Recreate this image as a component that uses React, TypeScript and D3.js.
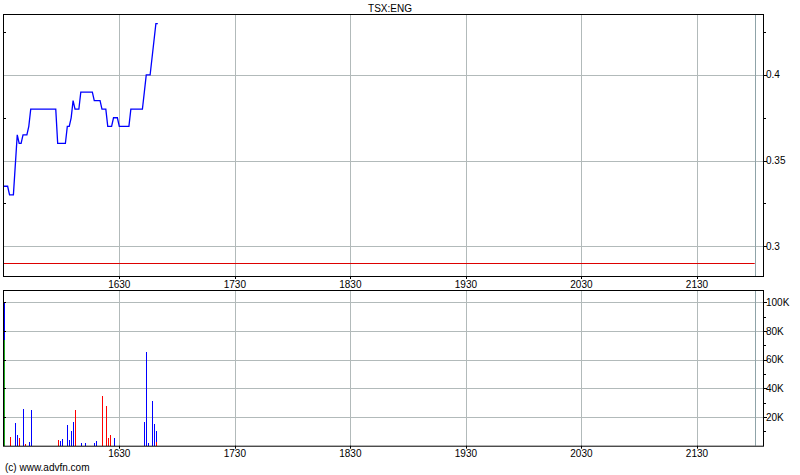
import React from "react";
import * as d3 from "d3";

// ---- data (minutes after 15:30) ----
const priceMinutes = [0, 2, 3, 5, 7, 8, 9, 10, 12, 13, 14, 27, 28, 32, 33, 34, 35, 36, 37, 39, 40, 46, 47, 50, 51, 53, 54, 56, 57, 59, 60, 65, 66, 72, 73, 74, 76, 79, 80];
const priceValues = [0.335, 0.335, 0.33, 0.33, 0.365, 0.36, 0.36, 0.365, 0.365, 0.37, 0.38, 0.38, 0.36, 0.36, 0.37, 0.37, 0.375, 0.385, 0.38, 0.38, 0.39, 0.39, 0.385, 0.385, 0.38, 0.38, 0.37, 0.37, 0.375, 0.375, 0.37, 0.37, 0.38, 0.38, 0.39, 0.4, 0.4, 0.43, 0.43];
const previousClose = 0.29;

const volMinutes = [0, 3, 6, 7, 8, 10, 11, 13, 14, 28, 29, 30, 33, 34, 35, 36, 37, 40, 42, 47, 48, 51, 53, 54, 55, 57, 73, 74, 75, 77, 78, 79];
const volBuy = [26000, 0, 15600, 7400, 0, 25500, 0, 2600, 24800, 0, 3500, 4700, 14400, 4000, 10200, 16500, 0, 2100, 2100, 2100, 3300, 0, 0, 0, 0, 5300, 16500, 65500, 2000, 31100, 15100, 7600];
const volSell = [0, 6300, 0, 0, 5300, 0, 1400, 0, 0, 4000, 0, 0, 0, 0, 0, 0, 24900, 0, 0, 0, 0, 34600, 27700, 5300, 7400, 0, 0, 0, 0, 0, 0, 2600];
const volOther = [73700, 0, 0, 0, 0, 0, 0, 0, 0, 0, 0, 0, 0, 0, 0, 0, 0, 0, 0, 0, 0, 0, 0, 0, 0, 0, 0, 0, 0, 0, 0, 0];

const hourTicks = [60, 120, 180, 240, 300, 360];
const hourLabels = ["1630", "1730", "1830", "1930", "2030", "2130"];
const sessionEnd = 390;

const priceMajor = [0.3, 0.35, 0.4];
const priceMajorLabels = ["0.3", "0.35", "0.4"];
const priceMinor = [0.325, 0.375, 0.425];
const volMajor = [20000, 40000, 60000, 80000, 100000];
const volMajorLabels = ["20K", "40K", "60K", "80K", "100K"];
const volMinor = [10000, 30000, 50000, 70000, 90000];

const title = "TSX:ENG";
const credit = "(c) www.advfn.com";

const FONT = "'Liberation Sans', Arial, sans-serif";
const GRID = "#b2baba";

export default function App() {
  const L = 3, R = 763;
  const pTop = 14, pBot = 276, vTop = 290, vBot = 445.7;
  const x = d3.scaleLinear().domain([-0.4, 394.3]).range([L, R]);
  const yP = d3.scaleLinear().domain([0.2826, 0.4356]).range([pBot, pTop]);
  const yV = d3.scaleLinear().domain([0, 108600]).range([vBot, vTop]);

  const pts = priceMinutes.map((m, i) => [m, priceValues[i]] as [number, number]);
  const line = d3.line<[number, number]>().x(d => x(d[0])).y(d => yP(d[1]));

  const bars: { m: number; y0: number; y1: number; c: string }[] = [];
  volMinutes.forEach((m, i) => {
    let base = 0;
    const segs: [number, string][] = [[volOther[i], "#1faa1f"], [volSell[i], "#ff0000"], [volBuy[i], "#0000ff"]];
    segs.forEach(([v, c]) => {
      if (v > 0) {
        bars.push({ m, y0: base, y1: base + v, c });
        base += v;
      }
    });
  });

  return (
    <svg width={800} height={475} style={{ position: "absolute", left: 0, top: 0, background: "#fff" }} fontFamily={FONT} fontSize={10}>
      <rect x={0} y={0} width={800} height={475} fill="#fff" />
      <text x={390} y={12} textAnchor="middle">{title}</text>

      {/* price panel */}
      {priceMajor.map(v => (
        <line key={"pg" + v} x1={L} x2={R} y1={Math.round(yP(v)) + 0.5} y2={Math.round(yP(v)) + 0.5} stroke={GRID} />
      ))}
      {hourTicks.map(m => (
        <line key={"pv" + m} x1={Math.round(x(m)) + 0.5} x2={Math.round(x(m)) + 0.5} y1={pTop} y2={pBot} stroke={GRID} />
      ))}
      <line x1={Math.round(x(sessionEnd)) + 0.5} x2={Math.round(x(sessionEnd)) + 0.5} y1={pTop} y2={pBot} stroke="#8fa3a8" />
      <line x1={L} x2={x(sessionEnd)} y1={Math.round(yP(previousClose)) + 0.5} y2={Math.round(yP(previousClose)) + 0.5} stroke="#dd0000" />
      <path d={line(pts) || ""} fill="none" stroke="#0000ff" strokeWidth={1.3} />
      <rect x={L + 0.5} y={pTop + 0.5} width={R - L} height={pBot - pTop} fill="none" stroke="#000" />
      {priceMajor.map((v, i) => (
        <g key={"pt" + v}>
          <line x1={R} x2={R + 4} y1={Math.round(yP(v)) + 0.5} y2={Math.round(yP(v)) + 0.5} stroke="#000" />
          <text x={R + 3} y={yP(v)} dy="0.35em">{priceMajorLabels[i]}</text>
        </g>
      ))}
      {priceMinor.map(v => (
        <g key={"pm" + v}>
          <line x1={R} x2={R + 3} y1={Math.round(yP(v)) + 0.5} y2={Math.round(yP(v)) + 0.5} stroke="#000" />
          <line x1={L} x2={L + 3} y1={Math.round(yP(v)) + 0.5} y2={Math.round(yP(v)) + 0.5} stroke="#000" />
        </g>
      ))}
      {hourTicks.map((m, i) => (
        <g key={"ph" + m}>
          <line x1={Math.round(x(m)) + 0.5} x2={Math.round(x(m)) + 0.5} y1={pBot} y2={pBot + 3} stroke="#000" />
          <text x={x(m)} y={pBot + 12} textAnchor="middle">{hourLabels[i]}</text>
        </g>
      ))}

      {/* volume panel */}
      {volMajor.map(v => (
        <line key={"vg" + v} x1={L} x2={R} y1={Math.round(yV(v)) + 0.5} y2={Math.round(yV(v)) + 0.5} stroke={GRID} />
      ))}
      {hourTicks.map(m => (
        <line key={"vv" + m} x1={Math.round(x(m)) + 0.5} x2={Math.round(x(m)) + 0.5} y1={vTop} y2={vBot} stroke={GRID} />
      ))}
      <line x1={Math.round(x(sessionEnd)) + 0.5} x2={Math.round(x(sessionEnd)) + 0.5} y1={vTop} y2={vBot} stroke="#8fa3a8" />
      {bars.map((b, i) => (
        <rect key={"b" + i} x={Math.max(L + 1, Math.round(x(b.m)))} width={1} y={Math.round(yV(b.y1))} height={Math.round(yV(b.y0)) - Math.round(yV(b.y1))} fill={b.c} shapeRendering="crispEdges" />
      ))}
      <rect x={L + 0.5} y={vTop + 0.5} width={R - L} height={vBot - vTop} fill="none" stroke="#000" />
      {volMajor.map((v, i) => (
        <g key={"vt" + v}>
          <line x1={R} x2={R + 4} y1={Math.round(yV(v)) + 0.5} y2={Math.round(yV(v)) + 0.5} stroke="#000" />
          <line x1={L} x2={L + 3} y1={Math.round(yV(v)) + 0.5} y2={Math.round(yV(v)) + 0.5} stroke="#000" />
          <text x={R + 3} y={yV(v)} dy="0.35em">{volMajorLabels[i]}</text>
        </g>
      ))}
      {volMinor.map(v => (
        <line key={"vm" + v} x1={R} x2={R + 3} y1={Math.round(yV(v)) + 0.5} y2={Math.round(yV(v)) + 0.5} stroke="#000" />
      ))}
      {hourTicks.map((m, i) => (
        <g key={"vh" + m}>
          <line x1={Math.round(x(m)) + 0.5} x2={Math.round(x(m)) + 0.5} y1={vBot} y2={vBot + 3} stroke="#000" />
          <text x={x(m)} y={vBot + 11} textAnchor="middle">{hourLabels[i]}</text>
        </g>
      ))}
      <text x={5} y={471}>{credit}</text>
    </svg>
  );
}
